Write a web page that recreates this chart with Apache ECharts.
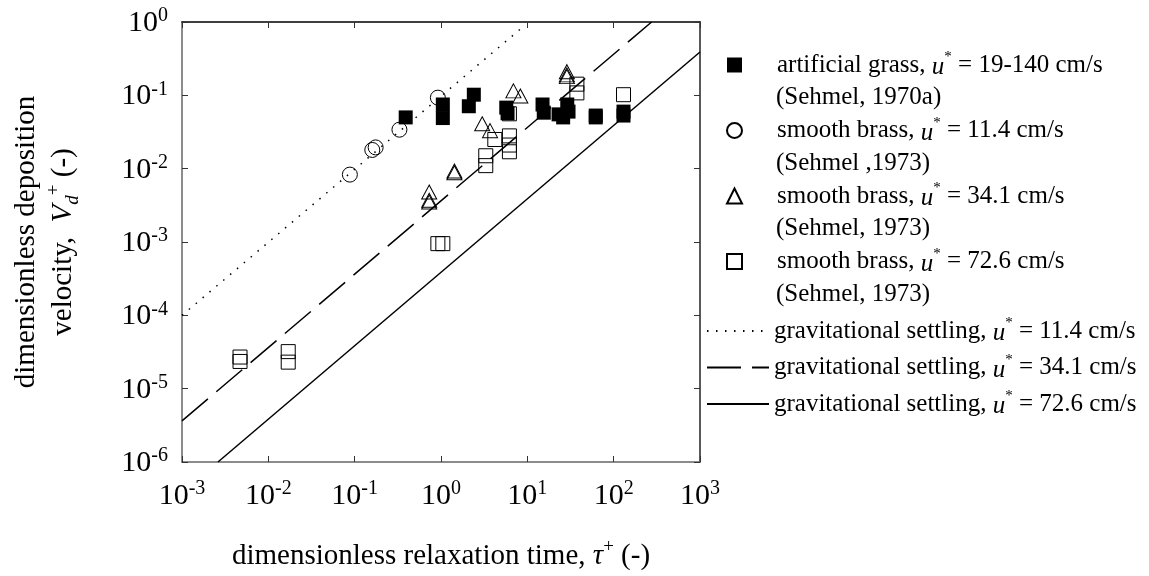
<!DOCTYPE html>
<html><head><meta charset="utf-8">
<script src="https://cdn.jsdelivr.net/npm/echarts@6/dist/echarts.min.js"></script>
<style>html,body{margin:0;padding:0;background:#fff}#c{width:1149px;height:576px}</style>
</head><body><div id="c"></div>
<script>
// ---- data ----
const artificialGrass = [[0.39,0.05],[1.05,0.075],[1.05,0.049],[2.4,0.102],[2.1,0.071],[5.7,0.068],[5.9,0.057],
  [15,0.075],[15.5,0.058],[23,0.055],[26,0.05],[29,0.075],[30,0.06],[62,0.053],[62,0.05],[130,0.06],[130,0.053]];
const brass114 = [[0.92,0.093],[0.33,0.034],[0.16,0.018],[0.175,0.0195],[0.088,0.0083]];
const brass341 = [[28.7,0.21],[28.7,0.19],[28.7,0.18],[6.9,0.115],[8.3,0.098],[3.0,0.041],[3.7,0.033],
  [1.43,0.0088],[1.43,0.0093],[0.73,0.0048],[0.73,0.0035],[0.73,0.0037]];
const brass726 = [[37.5,0.142],[37.5,0.108],[130,0.102],[6.2,0.056],[4.2,0.025],[6.2,0.028],[6.2,0.021],[6.2,0.017],
  [3.3,0.015],[3.3,0.011],[0.92,0.00095],[1.05,0.00095],[0.0047,2.7e-5],[0.0047,2.35e-5],[0.017,3.2e-5],[0.017,2.3e-5]];
const settling114 = [[0.001,1.0e-4],[8.3,0.8]];
const settling341 = [[0.001,3.64e-6],[275,1]];
const settling726 = [[0.00261,1e-6],[1000,0.39]];
const seriesNames = ['artificial grass','smooth brass 11.4','smooth brass 34.1','smooth brass 72.6',
  'gravitational settling 11.4','gravitational settling 34.1','gravitational settling 72.6'];
const legendLabels = ['artificial grass, {i|u}{sup|*} = 19-140 cm/s','smooth brass, {i|u}{sup|*} = 11.4 cm/s',
  'smooth brass, {i|u}{sup|*} = 34.1 cm/s','smooth brass, {i|u}{sup|*} = 72.6 cm/s',
  'gravitational settling, {i|u}{sup|*} = 11.4 cm/s','gravitational settling, {i|u}{sup|*} = 34.1 cm/s',
  'gravitational settling, {i|u}{sup|*} = 72.6 cm/s'];
const sourceLabels = ['(Sehmel, 1970a)','(Sehmel ,1973)','(Sehmel, 1973)','(Sehmel, 1973)'];
const xRange = [0.001, 1000];
const yRange = [1e-6, 1];

const FF = '"Liberation Serif","Times New Roman",serif';
const tickRich = {
  b:{fontFamily:FF,fontSize:30,lineHeight:32,color:'#000',verticalAlign:'bottom'},
  s:{fontFamily:FF,fontSize:20,lineHeight:22,color:'#000',verticalAlign:'top'}
};
const tickFmt = v => '{b|10}{s|' + Math.round(Math.log10(v)) + '}';
const legRich = {
  i:{fontFamily:FF,fontSize:25,fontStyle:'italic',color:'#000',lineHeight:30,verticalAlign:'bottom'},
  sup:{fontFamily:FF,fontSize:15,color:'#000',lineHeight:22,verticalAlign:'top'}
};
const nameRich = {
  i:{fontFamily:FF,fontSize:29,fontStyle:'italic',color:'#000',lineHeight:37},
  sub:{fontFamily:FF,fontSize:19,fontStyle:'italic',color:'#000',lineHeight:19,verticalAlign:'bottom'},
  sup:{fontFamily:FF,fontSize:19,color:'#000',lineHeight:19,verticalAlign:'top'}
};
const lmap = {}; seriesNames.forEach((n,i)=>lmap[n]=legendLabels[i]);

const hollow = {color:'rgba(0,0,0,0)',borderColor:'#000',borderWidth:1,opacity:1};
const chart = echarts.init(document.getElementById('c'), null, {renderer:'canvas'});
chart.setOption({
  animation:false,
  backgroundColor:'#fff',
  grid:{left:182,top:22,width:518,height:440},
  xAxis:[{
    type:'log',logBase:10,min:xRange[0],max:xRange[1],interval:1,position:'bottom',
    axisLine:{lineStyle:{color:'#666',width:1.5}},
    axisTick:{inside:true,length:6,lineStyle:{color:'#333',width:1}},
    minorTick:{show:false},splitLine:{show:false},
    axisLabel:{formatter:tickFmt,rich:tickRich,margin:17},
    name:'dimensionless relaxation time, {i|τ}{sup|+} (-)',
    nameLocation:'middle',nameGap:76,
    nameTextStyle:{fontFamily:FF,fontSize:29,color:'#000',rich:nameRich}
  },{
    type:'log',logBase:10,min:xRange[0],max:xRange[1],interval:1,position:'top',
    axisLine:{lineStyle:{color:'#000',width:1.5}},
    axisTick:{inside:true,length:6,lineStyle:{color:'#333',width:1}},
    axisLabel:{show:false},splitLine:{show:false}
  }],
  yAxis:[{
    type:'log',logBase:10,min:yRange[0],max:yRange[1],interval:1,position:'left',
    axisLine:{lineStyle:{color:'#666',width:1.5}},
    axisTick:{inside:true,length:6,lineStyle:{color:'#333',width:1}},
    minorTick:{show:false},splitLine:{show:false},
    axisLabel:{formatter:tickFmt,rich:tickRich,margin:14},
    name:'dimensionless deposition\nvelocity,  {i|V}{sub|d}{sup|+} (-)',
    nameLocation:'middle',nameGap:100,
    nameTextStyle:{fontFamily:FF,fontSize:29,color:'#000',lineHeight:37,align:'center',rich:nameRich}
  },{
    type:'log',logBase:10,min:yRange[0],max:yRange[1],interval:1,position:'right',
    axisLine:{lineStyle:{color:'#222',width:1.5}},
    axisTick:{inside:true,length:6,lineStyle:{color:'#333',width:1}},
    axisLabel:{show:false},splitLine:{show:false}
  }],
  legend:[{
    orient:'vertical',left:726,top:50,padding:0,itemWidth:15,itemHeight:15,itemGap:35.5,
    data:seriesNames.slice(0,4),
    formatter:n=>'{sp|}'+lmap[n],
    textStyle:{fontFamily:FF,fontSize:25,color:'#000',lineHeight:30,rich:Object.assign({sp:{width:30}},legRich)}
  },{
    orient:'vertical',left:706,top:316,padding:0,itemWidth:62,itemHeight:14,itemGap:6.5,
    data:seriesNames.slice(4),
    itemStyle:{opacity:0},
    formatter:n=>lmap[n],
    textStyle:{fontFamily:FF,fontSize:25,color:'#000',lineHeight:30,rich:legRich}
  }],
  graphic: sourceLabels.map((t,k)=>({type:'text',x:776,y:65+32.75*(2*k+1),
    style:{text:t,font:'25px '+FF,fill:'#000',verticalAlign:'middle'}})),
  series:[
    {name:seriesNames[0],type:'scatter',data:artificialGrass,symbol:'rect',symbolSize:14,itemStyle:{color:'#000',opacity:1}},
    {name:seriesNames[1],type:'scatter',data:brass114,symbol:'circle',symbolSize:15,itemStyle:hollow},
    {name:seriesNames[2],type:'scatter',data:brass341,symbol:'triangle',symbolSize:[15,14],itemStyle:hollow},
    {name:seriesNames[3],type:'scatter',data:brass726,symbol:'rect',symbolSize:14,itemStyle:hollow},
    {name:seriesNames[4],type:'line',data:settling114,symbol:'none',itemStyle:{color:'#000'},lineStyle:{color:'#000',width:1.5,type:[1.5,7.5]}},
    {name:seriesNames[5],type:'line',data:settling341,symbol:'none',itemStyle:{color:'#000'},lineStyle:{color:'#000',width:1.5,type:[34,11]}},
    {name:seriesNames[6],type:'line',data:settling726,symbol:'none',itemStyle:{color:'#000'},lineStyle:{color:'#000',width:1.5}}
  ]
});
</script></body></html>
